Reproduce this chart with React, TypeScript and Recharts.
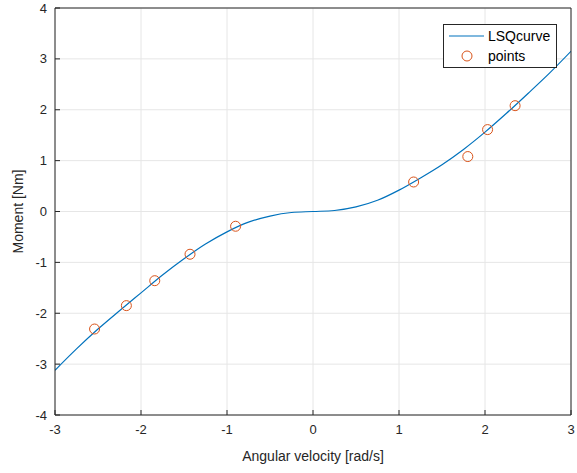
import { CartesianGrid, ComposedChart, Line, Scatter, XAxis, YAxis } from "recharts";

const curveX = [-3, -2.75, -2.5, -2.25, -2, -1.75, -1.5, -1.25, -1, -0.75, -0.5, -0.25, 0, 0.25, 0.5, 0.75, 1, 1.25, 1.5, 1.75, 2, 2.25, 2.5, 2.75, 3];
const curveY = [-3.12, -2.7, -2.31, -1.95, -1.6, -1.25, -0.93, -0.64, -0.4, -0.21, -0.09, -0.02, 0, 0.02, 0.09, 0.22, 0.42, 0.66, 0.92, 1.22, 1.56, 1.93, 2.32, 2.72, 3.15];

const pointX = [-2.54, -2.17, -1.84, -1.43, -0.9, 1.17, 1.8, 2.03, 2.35];
const pointY = [-2.31, -1.85, -1.36, -0.84, -0.29, 0.58, 1.08, 1.61, 2.08];

const xTicks = [-3, -2, -1, 0, 1, 2, 3];
const yTicks = [-4, -3, -2, -1, 0, 1, 2, 3, 4];

const curve = curveX.map((x, i) => ({ x, y: curveY[i] }));
const points = pointX.map((x, i) => ({ x, y: pointY[i] }));

const AXIS = "#262626";
const BLUE = "#0072BD";
const ORANGE = "#D95319";
const FONT = "'Liberation Sans', Arial, sans-serif";

function Hollow(props: any) {
  return <circle cx={props.cx} cy={props.cy} r={5} fill="none" stroke={ORANGE} strokeWidth={1} />;
}

export default function App() {
  const tickStyle = { fontSize: 13, fill: AXIS, fontFamily: FONT };
  return (
    <div style={{ position: "absolute", left: 0, top: 0, width: 577, height: 473, background: "#fff" }}>
      <ComposedChart width={577} height={473} margin={{ top: 7, right: 5, bottom: 0, left: 0 }}>
        <CartesianGrid xAxisId="b" yAxisId="l" stroke="#e6e6e6" strokeWidth={1} />
        <XAxis
          xAxisId="b"
          type="number"
          dataKey="x"
          domain={[-3, 3]}
          ticks={xTicks}
          allowDataOverflow
          height={58}
          stroke={AXIS}
          tickSize={-5}
          tickMargin={15}
          tick={tickStyle}
          label={{ value: "Angular velocity [rad/s]", position: "insideBottom", offset: 12, fontSize: 14, fill: AXIS, fontFamily: FONT }}
        />
        {/* top and right edges of the box */}
        <XAxis xAxisId="t" orientation="top" type="number" dataKey="x" domain={[-3, 3]} ticks={xTicks} allowDataOverflow height={1} stroke={AXIS} tickSize={-5} tick={false} />
        <YAxis
          yAxisId="l"
          type="number"
          domain={[-4, 4]}
          ticks={yTicks}
          allowDataOverflow
          width={55}
          stroke={AXIS}
          tickSize={-5}
          tickMargin={13}
          tick={tickStyle}
          label={{
            content: (p: any) => {
              const cy = p.viewBox.y + p.viewBox.height / 2;
              return (
                <text x={23} y={cy} transform={`rotate(-90 23 ${cy})`} textAnchor="middle" fontSize={14} fill={AXIS} fontFamily={FONT}>
                  Moment [Nm]
                </text>
              );
            },
          }}
        />
        <YAxis yAxisId="r" orientation="right" type="number" dataKey="y" domain={[-4, 4]} ticks={yTicks} allowDataOverflow width={1} stroke={AXIS} tickSize={-5} tick={false} />
        <Line xAxisId="t" yAxisId="r" data={curve} dataKey="y" dot={false} stroke="none" isAnimationActive={false} />
        <Line xAxisId="b" yAxisId="l" data={curve} dataKey="y" type="monotone" dot={false} stroke={BLUE} strokeWidth={1.2} isAnimationActive={false} />
        <Scatter xAxisId="b" yAxisId="l" data={points} dataKey="y" shape={<Hollow />} isAnimationActive={false} />
      </ComposedChart>
      <div
        style={{
          position: "absolute",
          left: 443,
          top: 24,
          width: 112,
          height: 42,
          border: `1px solid ${AXIS}`,
          background: "#fff",
          fontFamily: FONT,
          fontSize: 14,
          color: "#000",
        }}
      >
        <svg width={40} height={42} style={{ position: "absolute", left: 3, top: 0 }}>
          <line x1={2} y1={11} x2={37} y2={11} stroke={BLUE} strokeWidth={1.2} />
          <circle cx={20} cy={31} r={5} fill="none" stroke={ORANGE} />
        </svg>
        <div style={{ position: "absolute", left: 44, top: 2, lineHeight: "18px" }}>LSQcurve</div>
        <div style={{ position: "absolute", left: 44, top: 22, lineHeight: "18px" }}>points</div>
      </div>
    </div>
  );
}
